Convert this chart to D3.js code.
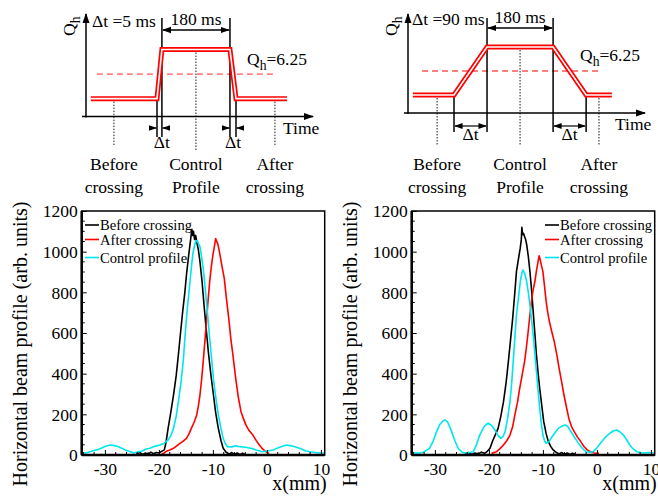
<!DOCTYPE html>
<html><head><meta charset="utf-8">
<script src="https://cdn.jsdelivr.net/npm/d3@7"></script>
<style>
body{margin:0;background:#fff;}
svg text{font-family:"Liberation Serif","Times New Roman",serif !important;fill:#000;}
</style></head>
<body><svg id="c" width="658" height="499"></svg>
<script>
// ---------- DATA ----------
const xTicks = [-30,-20,-10,0,10];
const yTicks = [0,200,400,600,800,1000,1200];
const seriesNames = ["Before crossing","After crossing","Control profile"];
const seriesColors = ["#000000","#ff0000","#00e5ee"];

const leftBefore = [[-24.2,5],[-23.5,12],[-23,3],[-22.5,10],[-22,4],[-21.5,14],[-21,6],[-20.5,12],[-20,10],[-19.5,18],[-19,25],[-18.7,60],[-18.3,131],[-17.8,210],[-17.3,295],[-16.8,390],[-16.4,492],[-16,600],[-15.6,705],[-15.2,800],[-14.9,885],[-14.5,980],[-14.1,1067],[-13.9,1110],[-13.75,1080],[-13.6,1100],[-13.4,1060],[-13.2,1080],[-13.0,1050],[-12.7,1010],[-12.4,951],[-12,850],[-11.65,738],[-11.25,620],[-10.85,508],[-10.4,400],[-9.9,295],[-9.5,210],[-9.0,131],[-8.5,70],[-8.1,33],[-7.6,15],[-7.3,10],[-7,4],[-6.5,12],[-6,3],[-5.5,10],[-5,2],[-4.5,9],[-4.1,3]];
const leftAfter = [[-19.5,5],[-19,10],[-18.5,20],[-18,25],[-17.3,33],[-16.7,45],[-16.1,57],[-15.5,68],[-14.9,82],[-14.4,105],[-14,131],[-13.5,160],[-13,197],[-12.7,240],[-12.4,295],[-12.1,370],[-11.8,459],[-11.5,555],[-11.2,656],[-10.9,760],[-10.6,853],[-10.3,925],[-10,984],[-9.7,1030],[-9.5,1065],[-9.3,1050],[-9.1,1040],[-8.8,1000],[-8.4,940],[-7.9,869],[-7.5,770],[-7,656],[-6.7,575],[-6.3,492],[-6,425],[-5.7,361],[-5.3,285],[-4.8,213],[-4.3,175],[-3.9,148],[-3.3,120],[-2.6,98],[-2,72],[-1.4,49],[-0.8,30],[-0.2,16],[0.4,8]];
const leftControl = [[-34.3,12],[-33.5,10],[-32.8,16],[-32,22],[-31,30],[-30,42],[-29,49],[-28,45],[-27,35],[-26,22],[-25,14],[-24.7,10],[-24,15],[-23,20],[-22.5,28],[-21.7,33],[-21,40],[-20.5,45],[-19.8,49],[-19,58],[-18.3,74],[-17.8,95],[-17.3,131],[-16.8,190],[-16.4,262],[-15.9,360],[-15.5,459],[-15.2,570],[-14.9,672],[-14.6,760],[-14.3,836],[-14,920],[-13.7,992],[-13.4,1030],[-13.2,1049],[-12.9,1055],[-12.7,1040],[-12.4,1025],[-12.1,975],[-11.8,918],[-11.5,840],[-11.2,754],[-10.9,665],[-10.6,574],[-10.2,460],[-9.85,361],[-9.4,270],[-9,197],[-8.5,130],[-8.1,82],[-7.7,55],[-7.3,41],[-6.5,40],[-5.8,45],[-5,41],[-4,38],[-3,33],[-2,25],[-1.2,18],[-0.7,16],[0,20],[1.2,25],[2,35],[3,44],[3.7,49],[4.5,45],[5.5,38],[6.5,28],[7.2,20],[8,16],[9,12],[10,10],[10.7,10]];

const rightBefore = [[-24.4,5],[-23.8,12],[-23.2,3],[-22.6,10],[-22,5],[-21.4,14],[-20.8,8],[-20.3,18],[-19.8,33],[-19.3,70],[-18.8,100],[-18.3,131],[-17.8,190],[-17.3,262],[-16.8,360],[-16.4,459],[-16,565],[-15.6,672],[-15.2,800],[-14.9,902],[-14.5,970],[-14.2,1017],[-14,1060],[-13.9,1120],[-13.75,1083],[-13.6,1090],[-13.4,1075],[-13.2,1060],[-13,1033],[-12.7,975],[-12.4,902],[-12.1,810],[-11.8,705],[-11.5,600],[-11.2,492],[-10.9,405],[-10.6,328],[-10.2,240],[-9.85,164],[-9.4,105],[-9,66],[-8.5,40],[-8.1,25],[-7.5,12],[-7,5],[-6.5,12],[-6,3],[-5.5,10],[-5,3],[-4.5,9],[-4.1,4]];
const rightAfter = [[-19.5,8],[-18.6,16],[-18,30],[-17.3,49],[-16.7,70],[-16.1,98],[-15.6,140],[-15.2,197],[-14.7,260],[-14.3,328],[-13.8,400],[-13.4,459],[-13.1,520],[-12.8,590],[-12.5,665],[-12.2,738],[-11.9,800],[-11.5,852],[-11.2,905],[-10.9,951],[-10.7,980],[-10.5,960],[-10.3,935],[-10,902],[-9.7,830],[-9.4,754],[-9.1,700],[-8.8,656],[-8.3,600],[-7.9,558],[-7.4,490],[-7,426],[-6.5,355],[-6.1,295],[-5.6,230],[-5.2,180],[-4.7,140],[-4.2,115],[-3.6,88],[-3,66],[-2.4,42],[-1.8,25],[-1.1,15],[-0.5,10],[0.4,8]];
const rightControl = [[-34.3,12],[-33.5,10],[-32.8,10],[-32,15],[-31,33],[-30.3,70],[-29.7,115],[-29.1,150],[-28.5,168],[-28.1,172],[-27.6,160],[-26.9,115],[-26.3,70],[-25.7,33],[-25,15],[-24.4,10],[-23.6,12],[-22.9,16],[-22.3,50],[-21.7,98],[-21,135],[-20.5,150],[-20.1,156],[-19.5,145],[-18.9,123],[-18.3,95],[-17.8,82],[-17.4,90],[-17,115],[-16.6,170],[-16.1,262],[-15.8,350],[-15.5,459],[-15.2,575],[-14.9,689],[-14.5,780],[-14.2,852],[-13.9,895],[-13.7,910],[-13.4,895],[-13,852],[-12.7,800],[-12.4,738],[-12.1,665],[-11.8,590],[-11.5,500],[-11.2,410],[-10.9,320],[-10.6,230],[-10.3,155],[-10,98],[-9.7,70],[-9.4,57],[-8.9,65],[-8.5,82],[-7.8,108],[-7.15,131],[-6.5,142],[-5.9,148],[-5.4,140],[-4.8,115],[-4.1,85],[-3.4,57],[-2.7,33],[-2,16],[-1.3,14],[-0.7,16],[0,35],[0.9,66],[1.6,88],[2.4,107],[3,118],[3.66,123],[4.3,113],[4.9,98],[5.5,75],[6.1,49],[6.7,30],[7.4,16],[8.5,10],[9.5,12],[10.7,10]];

// schematic (time in ms, schematic scale; Q levels)
const qLow = 2.5, qHigh = 10, qThreshold = 6.25;
const leftProfileT  = [-175, 0, 13, 193, 209, 344];
const rightProfileT = [-112, 0, 90, 270, 360, 430];
const profileQ = [qLow, qLow, qHigh, qHigh, qLow, qLow];
const leftMarkT  = [-114, 103, 312];
const rightMarkT = [-46, 180, 395];
const markLabels = [["Before","crossing"],["Control","Profile"],["After","crossing"]];

// ---------- DRAW ----------
const SERIF = "'Liberation Serif','Times New Roman',serif";
const svg = d3.select("#c");
const defs = svg.append("defs");
defs.append("marker").attr("id","ah").attr("viewBox","0 0 10 10").attr("refX",9).attr("refY",5)
  .attr("markerWidth",7).attr("markerHeight",7).attr("orient","auto-start-reverse")
  .append("path").attr("d","M0,1.5L10,5L0,8.5Z").attr("fill","#000");

function plot(x0, data, legendX){
  const x = d3.scaleLinear().domain([-34.3,10.7]).range([x0, x0+243]);
  const y = d3.scaleLinear().domain([0,1200]).range([455,211]);
  const g = svg.append("g");
  const line = d3.line().x(d=>x(d[0])).y(d=>y(d[1]));
  data.forEach((s,i)=>{
    g.append("path").attr("d",line(s)).attr("fill","none")
     .attr("stroke",seriesColors[i]).attr("stroke-width",1.6).attr("stroke-linejoin","round");
  });
  // frame
  g.append("rect").attr("x",x0).attr("y",211).attr("width",243).attr("height",244)
   .attr("fill","none").attr("stroke","#000").attr("stroke-width",1.5);
  g.append("line").attr("x1",x0).attr("x2",x0+243).attr("y1",455).attr("y2",455).attr("stroke","#000").attr("stroke-width",2.5);
  g.append("line").attr("x1",x0).attr("x2",x0).attr("y1",211).attr("y2",455).attr("stroke","#000").attr("stroke-width",2.5);
  // ticks
  const xa = d3.axisBottom(x).tickValues(xTicks).tickSize(-5).tickFormat(d=>d<0?"-"+Math.abs(d):String(d));
  const ga = g.append("g").attr("transform","translate(0,455)").call(xa);
  ga.attr("font-family",null).attr("font-size",null);
  ga.select(".domain").remove();
  ga.selectAll("text").style("font-family",SERIF).style("font-size","17.5px").attr("dy",null).attr("y",20);
  const xm = d3.range(-34,11,2).filter(v=>v%10!==0);
  g.selectAll(".xm").data(xm).join("line").attr("x1",d=>x(d)).attr("x2",d=>x(d)).attr("y1",455).attr("y2",452).attr("stroke","#000");
  const ya = d3.axisLeft(y).tickValues(yTicks).tickSize(-5).tickFormat(d=>String(d));
  const gy = g.append("g").attr("transform",`translate(${x0},0)`).call(ya);
  gy.attr("font-family",null).attr("font-size",null);
  gy.select(".domain").remove();
  gy.selectAll("text").style("font-family",SERIF).style("font-size","17.5px").attr("x",-4).attr("dy","0.34em");
  const ym = d3.range(50,1200,50).filter(v=>v%200!==0);
  g.selectAll(".ym").data(ym).join("line").attr("x1",x0).attr("x2",x0+3).attr("y1",d=>y(d)).attr("y2",d=>y(d)).attr("stroke","#000");
  // titles
  g.append("text").attr("transform",`translate(${x0-55},344) rotate(-90)`).attr("text-anchor","middle")
   .attr("font-size",20).text("Horizontal beam profile (arb. units)");
  g.append("text").attr("x",x0+245).attr("y",490).attr("text-anchor","end").attr("font-size",20).text("x(mm)");
  // legend
  const ly = [225,239.5,257.5];
  seriesNames.forEach((n,i)=>{
    g.append("line").attr("x1",legendX).attr("x2",legendX+14).attr("y1",ly[i]).attr("y2",ly[i])
     .attr("stroke",seriesColors[i]).attr("stroke-width",1.6);
    g.append("text").attr("x",legendX+15).attr("y",ly[i]+5).attr("font-size",14.6).text(n);
  });
}
plot(81.7,[leftBefore,leftAfter,leftControl],85);
plot(411.7,[rightBefore,rightAfter,rightControl],545);

function qText(g,xp,yp,extra,size){
  const t = g.append("text").attr("x",xp).attr("y",yp).attr("font-size",size);
  t.append("tspan").text("Q");
  t.append("tspan").attr("font-size",size*0.78).attr("dy",5).text("h");
  if(extra) t.append("tspan").attr("dy",-5).text(extra);
}

function schematic(opt){
  const g = svg.append("g");
  const t = d3.scaleLinear().domain([0,1]).range([opt.t0, opt.t0+opt.k]);
  const q = d3.scaleLinear().domain([0,10]).range([opt.q0, opt.q0-opt.qk*10]);
  const fs = 17.5;
  // axes
  g.append("line").attr("x1",opt.yAxisX).attr("x2",opt.yAxisX).attr("y1",opt.axisY+1).attr("y2",14)
   .attr("stroke","#000").attr("stroke-width",1.5).attr("marker-end","url(#ah)");
  g.append("line").attr("x1",opt.yAxisX-4).attr("x2",opt.axisEnd).attr("y1",opt.axisY).attr("y2",opt.axisY)
   .attr("stroke","#000").attr("stroke-width",1.5).attr("marker-end","url(#ah)");
  // Q_h axis label rotated
  const ql = g.append("text").attr("transform",`translate(${opt.yAxisX-11},36) rotate(-90)`).attr("font-size",fs);
  ql.append("tspan").text("Q"); ql.append("tspan").attr("font-size",fs*0.78).attr("dy",5).text("h");
  // threshold dashed
  g.append("line").attr("x1",t(opt.dash[0])).attr("x2",t(opt.dash[1])).attr("y1",q(qThreshold)).attr("y2",q(qThreshold))
   .attr("stroke","#ff5555").attr("stroke-width",1.3).attr("stroke-dasharray","6,4");
  // dotted markers
  opt.marks.forEach((m,i)=>{
    const yTop = i===1? q(qHigh): q(qLow);
    g.append("line").attr("x1",t(m)).attr("x2",t(m)).attr("y1",yTop).attr("y2",opt.dotEnd[i])
     .attr("stroke","#000").attr("stroke-width",0.9).attr("stroke-dasharray","1.5,1.5");
    g.append("text").attr("x",t(m)).attr("y",170).attr("text-anchor","middle").attr("font-size",fs).text(markLabels[i][0]);
    g.append("text").attr("x",t(m)).attr("y",193).attr("text-anchor","middle").attr("font-size",fs).text(markLabels[i][1]);
  });
  // vertical black lines
  const P = opt.profile;
  [[P[1],q(qLow)],[P[2],18],[P[3],18],[P[4],q(qLow)]].forEach(([tv,yt])=>{
    g.append("line").attr("x1",t(tv)).attr("x2",t(tv)).attr("y1",yt).attr("y2",opt.vEnd)
     .attr("stroke","#000").attr("stroke-width",1.5);
  });
  // red profile double line
  const pl = d3.line().x(d=>t(d[0])).y(d=>q(d[1]));
  const pts = P.map((v,i)=>[v,profileQ[i]]);
  g.append("path").attr("d",pl(pts)).attr("fill","none").attr("stroke","#ff0000").attr("stroke-width",5).attr("stroke-linejoin","miter");
  g.append("path").attr("d",pl(pts)).attr("fill","none").attr("stroke","#fff").attr("stroke-width",1.6).attr("stroke-linejoin","miter");
  // 180 ms bracket
  g.append("line").attr("x1",t(P[2])+1).attr("x2",t(P[3])-1).attr("y1",opt.brY).attr("y2",opt.brY)
   .attr("stroke","#000").attr("stroke-width",1.3).attr("marker-start","url(#ah)").attr("marker-end","url(#ah)");
  g.append("text").attr("x",(t(P[2])+t(P[3]))/2).attr("y",opt.brY-5).attr("text-anchor","middle").attr("font-size",fs).text("180 ms");
  g.append("text").attr("x",opt.dtX).attr("y",opt.brY-3).attr("font-size",fs).text(opt.dtLabel);
  qText(g,opt.qhX,opt.qhY,"=6.25",fs);
  g.append("text").attr("x",opt.axisEnd-30).attr("y",opt.axisY+17).attr("font-size",fs).text("Time");
  opt.dtMarks(g,t,fs);
}

schematic({t0:157,k:0.378,q0:115,qk:6.55,yAxisX:86,axisY:116.5,axisEnd:313,
  profile:leftProfileT,marks:leftMarkT,dash:[-159,307],dotEnd:[145,150,145],vEnd:137,brY:30,
  dtX:92,dtLabel:"\u0394t =5 ms",qhX:247,qhY:65,
  dtMarks:(g,t,fs)=>{
    const P=leftProfileT, yA=128;
    [[P[1]-19,P[1]-2],[P[2]+19,P[2]+2],[P[3]-19,P[3]-2],[P[4]+19,P[4]+2]].forEach(([a,b])=>{
      g.append("line").attr("x1",t(a)).attr("x2",t(b)).attr("y1",yA).attr("y2",yA)
       .attr("stroke","#000").attr("stroke-width",1.2).attr("marker-end","url(#ah)");
    });
    g.append("text").attr("x",t(P[2])).attr("y",148).attr("text-anchor","middle").attr("font-size",fs).text("\u0394t");
    g.append("text").attr("x",t((P[3]+P[4])/2)).attr("y",148).attr("text-anchor","middle").attr("font-size",fs).text("\u0394t");
  }});
schematic({t0:454,k:0.367,q0:111,qk:6.4,yAxisX:408,axisY:113,axisEnd:645,
  profile:rightProfileT,marks:rightMarkT,dash:[-87,398],dotEnd:[145,145,145],vEnd:132,brY:28,
  dtX:412,dtLabel:"\u0394t =90 ms",qhX:580,qhY:61,
  dtMarks:(g,t,fs)=>{
    const P=rightProfileT, yA=126;
    [[P[1],P[2]],[P[3],P[4]]].forEach(([a,b])=>{
      g.append("line").attr("x1",t(a)+1).attr("x2",t(b)-1).attr("y1",yA).attr("y2",yA)
       .attr("stroke","#000").attr("stroke-width",1.2).attr("marker-start","url(#ah)").attr("marker-end","url(#ah)");
      g.append("text").attr("x",t((a+b)/2)).attr("y",140).attr("text-anchor","middle").attr("font-size",fs).text("\u0394t");
    });
  }});
</script></body></html>
